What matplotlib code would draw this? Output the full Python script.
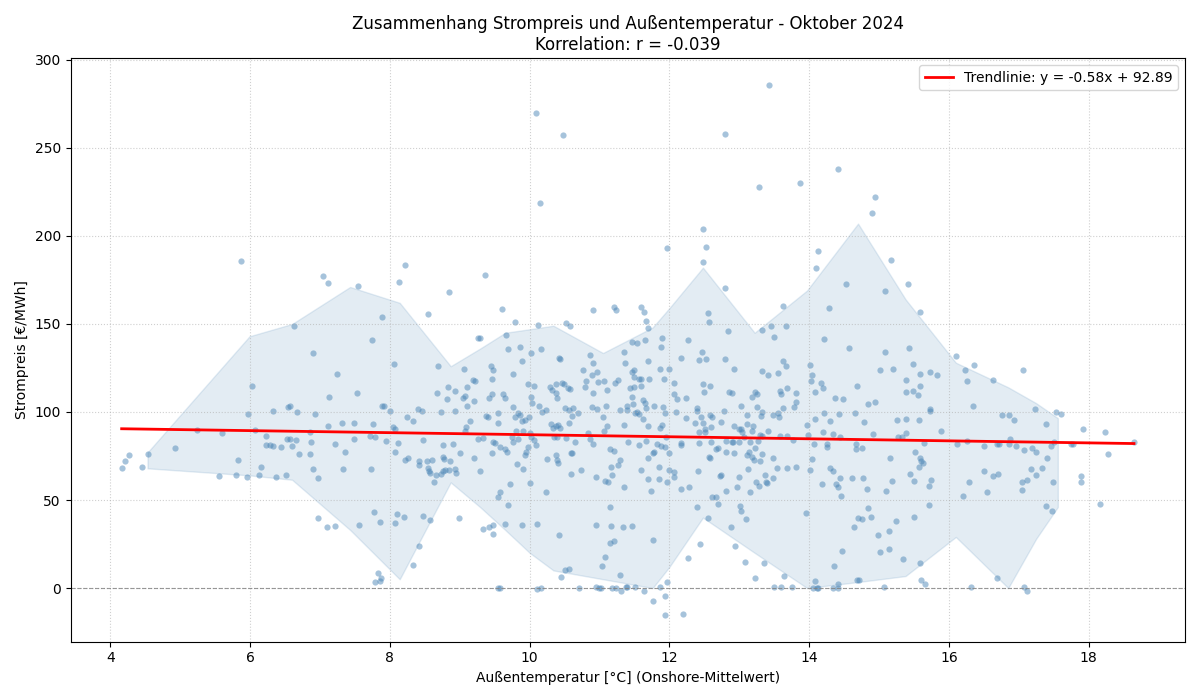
import numpy as np
import matplotlib
matplotlib.use("Agg")
import matplotlib.pyplot as plt

# Stundenwerte Oktober 2024, nach Temperaturbereichen
temp_a = [4.16, 4.21, 4.26, 4.45, 4.53, 4.93, 5.24, 5.59, 5.56, 5.8, 5.96, 6.13, 6.37, 6.51, 5.83, 6.16,
          5.97, 6.33, 6.07, 6.23, 6.23, 6.29, 6.33, 6.44, 6.53, 6.54, 5.87, 6.03]
preis_a = [68, 72, 75.5, 69, 76, 79.5, 90, 88, 63.6, 64, 63, 64, 63, 64, 73, 69,
           99, 100.6, 90, 86.5, 81, 81, 80.7, 80, 84.5, 103, 186, 115]

temp_b = [6.62, 7.04, 7.12, 7.55, 7.89, 8.13, 8.22, 8.55, 8.85, 9.26, 6.9, 7.74, 7.24, 8.06, 8.69, 9.06,
          9.19, 9.22, 8.83, 9.1, 8.93, 8.68, 7.13, 7.53, 9.04,
          6.57, 6.67, 6.93, 7.89, 7.92, 8.0, 8.4, 8.46, 8.73, 8.93, 8.81, 9.07, 9.21, 9.1, 8.24, 8.33,
          9.14, 9.09, 9.07, 7.12, 7.32, 7.49, 7.76, 6.85, 8.05, 8.07, 6.57, 6.66, 6.87, 7.21, 7.49,
          7.71, 7.79, 7.94, 8.11, 8.47, 8.76, 8.9, 9.26,
          6.6, 6.7, 6.86, 7.36, 8.07, 8.22, 8.26, 8.42, 8.42, 8.53, 8.6, 8.55, 8.56, 8.58, 8.66, 8.73,
          8.63, 8.76, 8.78, 8.86, 8.76, 8.79, 8.84, 8.93, 8.94, 9.01, 9.21, 9.29, 6.9, 6.97, 7.33, 7.73,
          6.97, 7.1, 7.21, 7.56, 7.77, 7.86, 8.1, 8.2, 8.07, 8.47, 8.58, 8.99, 8.42, 8.33, 7.83, 7.87,
          7.79, 7.86]
preis_b = [149, 177, 173, 171.6, 154, 174, 183.5, 155.7, 168, 142, 133.5, 141, 121.6, 127, 126, 124.4,
           118, 117.6, 114, 114, 112, 111, 108.5, 111, 108,
           103.4, 100, 99, 103.4, 103.4, 100.6, 101.7, 100.6, 100, 100.6, 107.4, 109, 106, 103.4, 97, 95,
           95, 91.5, 89, 92, 94, 93.8, 93.2, 88.6, 91.5, 90.3, 84.7, 84, 83, 81.8, 84.7,
           86.4, 85.8, 83.5, 82.4, 84, 81.3, 81.8, 84.7,
           80.7, 76, 76, 77.3, 77.3, 72.7, 73.9, 72, 70, 72, 72.7, 68, 66.5, 65.3, 64.2, 64.8,
           60, 74.4, 73.3, 72, 66.5, 67, 67, 67.6, 65.3, 76.7, 73.9, 66.5, 67.6, 62.5, 67.6, 67.6,
           40, 34.7, 35.2, 35.8, 43, 37.5, 42, 40.3, 37, 41, 38.6, 39.8, 23.9, 13, 8.5, 5.7,
           3.4, 4]

temp_c = [9.36, 10.09, 10.48, 10.15, 11.97, 9.6, 10.91, 11.21, 11.23, 11.59, 11.63, 11.66, 11.7, 9.79,
          10.12, 10.52, 10.58, 9.29, 9.66, 11.9, 11.46, 11.53, 11.65, 11.88, 9.69, 9.86, 10.02, 10.16,
          10.87, 11.35, 9.89, 10.42, 10.43, 10.91, 11.37, 11.7, 9.45, 9.48, 9.46, 9.76, 10.77, 10.89,
          10.96, 11.46, 11.5, 11.59, 11.71, 11.86, 11.92, 12.0, 10.81, 10.98, 11.07, 11.22, 11.27,
          11.49, 11.5, 11.57, 11.59, 9.97, 10.06, 10.29, 10.32, 10.38, 10.46, 10.49, 10.55, 10.58,
          10.79, 10.9, 11.1, 11.43, 11.47, 11.62, 9.46, 9.62, 10.02, 10.38, 10.39, 9.42, 9.65,
          9.37, 9.4, 9.55, 9.54, 9.76, 9.79, 9.84, 9.86, 9.89, 9.94, 9.99, 10.04, 10.14, 10.18, 10.24,
          9.33, 9.48, 9.5, 9.58, 9.46, 9.65, 9.68, 9.74, 9.76, 9.8, 9.9, 9.84, 10.01, 10.02, 10.06,
          10.09, 9.98, 9.95, 9.94, 9.82, 9.9, 9.72, 10.01, 9.58, 9.54, 9.69, 9.65, 9.89, 10.11, 10.24,
          10.42, 9.33, 9.42, 9.48, 9.48, 10.51, 10.57, 10.45, 9.55, 9.58, 10.11, 10.16, 10.71, 10.95,
          10.99, 11.02, 11.18, 11.24, 11.31, 11.38, 11.4, 11.51, 11.64, 11.77, 11.87, 11.94, 11.97,
          11.94, 11.3, 11.08, 11.04, 11.15, 11.2, 10.95, 11.16, 11.33, 11.47, 11.15, 11.77, 11.35,
          11.74, 11.85, 11.96, 11.7, 11.6, 11.85, 10.95, 11.08, 11.12, 11.18, 10.59, 10.74, 11.27,
          11.3, 11.16, 10.25, 10.38, 10.39, 10.4, 10.59, 10.6, 11.15, 11.2, 11.57, 11.66, 11.41,
          11.77, 11.78, 11.7, 11.88, 11.94, 11.82, 11.99, 12.0, 10.52, 10.65, 10.9, 10.84, 10.87,
          11.07, 11.11, 11.35, 10.35, 10.39, 10.34, 10.38, 10.44, 10.31, 10.41, 10.56, 10.6, 10.69,
          10.51, 10.57, 10.62, 10.89, 10.96, 11.09, 11.05, 11.3, 11.39, 11.39, 11.48, 11.51, 11.54,
          11.56, 11.62, 11.65, 11.66, 11.78, 11.91, 11.94, 11.69, 11.87, 11.89, 11.95]
preis_c = [178, 270, 257.6, 218.8, 193, 158.5, 158, 159.7, 158, 159.7, 156.8, 151.7, 147.7, 151,
           149.4, 150.6, 148.9, 142, 143.8, 142, 140, 139, 141, 137, 135.8, 137, 133.5, 135.8,
           132.4, 134, 129, 130.7, 130.2, 127.8, 127.8, 129, 126, 124, 119, 121.6, 124, 121,
           122.7, 122.7, 124, 118.8, 118.8, 124.4, 118.8, 124.4, 117.6, 117, 117.6, 116.5, 118,
           120, 114, 118.8, 115, 116, 114.8, 114, 112.5, 116, 116.5, 116, 113.6, 113,
           114, 110.8, 112.5, 113.6, 108.5, 106.8, 110, 110, 108.5, 110.8, 108, 108, 108,
           97.7, 97, 99.4, 93.8, 102.8, 97, 99.4, 98.3, 95, 95.5, 97, 105, 103.4, 100, 101,
           85, 83, 82.4, 80, 76.7, 79, 77.3, 85.8, 83, 89, 89, 84.7, 88, 85.8, 84,
           81.3, 80, 77.3, 75.5, 70.5, 67.6, 59, 59.7, 54.5, 51.7, 47, 36.4, 35.8, 36.4, 54.5,
           30, 33.5, 34.7, 35.8, 30.7, 10.2, 10.8, 6.2, 0, 0, -0.5, 0, 0, 0.5,
           0, 0, 0, 0, -1.7, 0.5, 0.5, 0.5, -1.7, -7.4, 0.5, -4.5, 3.4,
           -15.3, 7.4, 17.6, 12.5, 25.6, 26.7, 35.8, 35.2, 34.7, 35.2, 46, 27.3, 57.4,
           55, 62, 60.2, 62, 67, 68.8, 63, 60.8, 60.2, 64.2, 64.8, 67, 70,
           72.7, 68.8, 73.3, 75.5, 72.7, 71, 76.7, 76.7, 79, 78, 81.3, 83.5, 83,
           76.7, 77.3, 73.9, 80.7, 80, 81.8, 76.7, 67, 85.2, 83, 81.8, 88, 84.7,
           89, 92, 92.6, 85.8, 85.8, 91, 92, 91, 93.2, 92.6, 93.8, 97.7, 99.4,
           102, 101, 102, 102.8, 101.7, 103.4, 97, 101, 101, 103.4, 104.5, 99.4, 100,
           99, 96, 105, 102.3, 103.4, 102.8, 99.4, 92, 91, 92.6, 85.8]

temp_d = [13.43, 12.8, 13.28, 13.87, 14.41, 12.48, 12.52, 12.48, 14.13, 14.1, 14.53, 12.8, 14.29,
          12.55, 12.57, 13.62, 13.67, 13.45, 13.33, 13.5, 12.84, 12.27, 14.21, 14.57, 12.17, 12.47,
          12.43, 12.53, 12.8, 12.93, 13.62, 13.67, 14.01, 14.04, 14.03, 14.17, 14.2, 14.08, 14.68,
          12.07, 12.07, 12.48, 12.58, 12.5, 13.33, 13.41, 13.56, 12.86, 12.9, 13.22, 13.25, 13.58,
          13.6, 13.68, 13.81, 14.37, 14.48, 13.18, 12.24, 12.11,
          12.1, 12.24, 12.4, 12.39, 12.36, 12.45, 12.48, 12.43, 12.51, 12.51, 12.58, 12.61, 12.6,
          12.74, 12.78, 13.02, 12.93, 12.99, 13.02, 13.04, 13.11, 13.11, 13.19, 13.18, 13.25, 13.33,
          13.31, 13.41, 13.49, 13.56, 13.57, 13.62, 13.79, 13.81, 13.07, 13.3, 13.33, 12.89, 12.91,
          12.99, 12.81, 13.16, 13.27, 13.58, 13.68, 13.77, 13.99, 12.17, 12.17, 12.43, 12.6, 12.7,
          12.67, 12.81, 12.93, 12.57, 12.58, 13.14, 13.11, 13.18, 13.21, 13.3, 13.22, 13.33, 13.49,
          13.54, 13.68, 13.81, 13.13, 13.0, 13.24, 13.28, 13.38, 13.39, 13.49, 13.37, 12.97, 12.81,
          13.16, 12.74, 12.73, 12.41, 12.06, 12.06, 12.16, 12.28, 12.61, 12.67, 12.7, 12.39, 13.01,
          13.02, 13.1, 12.55, 12.88, 12.44, 12.94, 12.27, 13.08, 13.35, 13.22, 13.64, 13.5, 13.6,
          13.76, 12.19, 13.96, 14.01, 14.04, 14.07, 13.97, 14.08, 14.21, 14.2, 14.26, 14.26, 14.3,
          14.34, 14.43, 14.44, 14.3, 14.34, 14.44, 14.39, 14.41, 14.46, 14.19, 14.61, 14.66, 14.67,
          14.67, 14.7, 14.64, 14.47, 14.36, 14.08, 14.06, 14.11, 14.13, 14.34, 14.41, 14.41, 14.69]
preis_d = [286, 258, 228, 230, 238, 204, 194, 185, 191.5, 182, 172.7, 170.5, 159,
           156, 151, 160, 149, 149, 146.6, 142.6, 146, 141, 141.5, 136.4, 130.7, 134,
           129.5, 130, 130, 124.4, 129, 126, 126.7, 121, 117.6, 116.5, 113.6, 111.4, 114.8,
           116.5, 110, 116, 115, 111.4, 123.3, 121, 122, 111.4, 110.8, 111.4, 110, 112,
           110, 113.6, 110.8, 108, 107.4, 108.5, 108, 107.4,
           100, 96.6, 102, 100.6, 93.8, 97, 93.8, 88.6, 88.6, 90.3, 98.3, 97, 91.5,
           94.3, 100.6, 103.4, 92, 90.3, 90.3, 88.6, 98.3, 93.2, 92, 89.2, 102.8, 100,
           97.7, 89.2, 98.3, 99.4, 97, 102.3, 102.8, 105.7, 85.8, 87, 86.4, 83, 83,
           83, 83.5, 83, 83.5, 86.4, 86.4, 84, 87, 82.4, 81.3, 82.4, 83, 79.5,
           79, 77.3, 76.7, 74.4, 73.9, 77.3, 75.5, 74.4, 72.7, 72, 79.5, 76, 73.9,
           68, 68, 68.8, 67.6, 63, 60.2, 58, 60.2, 59.7, 62.5, 64.2, 57.4, 55,
           54.5, 64.2, 63.6, 66.5, 66, 63, 56.3, 57.4, 51.7, 51.7, 47.7, 46, 46.6,
           43.8, 39.2, 39.8, 34.7, 25, 23.9, 17, 14.8, 14.2, 5.7, 6.8, 0.5, 0.5,
           0.5, -14.8, 42.6, 67, 73.3, 81.8, 92.6, 96, 99.4, 88.6, 81.8, 80, 95,
           87.5, 98.9, 85.8, 68, 66.5, 62.5, 59, 57.4, 52.3, 59, 62.5, 99.4, 81.8,
           79, 39.8, 34.7, 21, 12.5, 4, 0, 0, 0, 0, 2.3, 0, 4.5]

temp_e = [14.94, 14.9, 15.17, 15.41, 15.09, 15.59, 15.09, 15.43, 16.1, 15.49, 16.36, 15.02, 15.2,
          15.59, 15.73, 15.83, 16.23, 16.26, 16.63, 17.06, 15.39, 15.59, 15.39, 15.49, 15.56,
          14.84, 14.94, 14.79, 14.91, 14.76, 15.26, 15.39, 15.57, 15.73, 15.73, 15.89, 15.39, 15.27,
          15.33, 15.64, 15.52, 15.16, 15.59, 15.6, 15.63, 15.57, 15.45, 15.5, 15.74, 15.71, 15.19,
          15.1, 14.83, 14.77, 15.71, 14.84, 14.76, 14.89, 15.5, 15.24, 15.14, 14.99, 15.01, 15.14,
          15.34, 15.59, 14.72, 15.07, 15.6, 15.66, 16.11, 16.26, 16.35, 16.2, 16.29, 16.5, 16.51,
          16.54, 16.63, 16.7, 16.69, 16.72, 16.76, 16.86, 16.93, 16.87, 16.86, 16.96, 17.08, 17.19,
          17.25, 17.4, 17.17, 17.25, 17.33, 17.05, 17.12, 17.05, 17.23, 17.39, 17.39, 16.69, 16.31,
          17.08, 17.12, 17.53, 17.6, 17.92, 18.23, 17.51, 17.46, 17.75, 17.77, 18.65, 18.28, 17.49,
          17.89, 17.89, 17.48, 18.16]
preis_e = [222, 213, 186.4, 172.7, 168.8, 156.8, 134, 136.4, 131.8, 127.3, 126.7, 124, 124.4,
           121.6, 122.7, 121, 124, 117.6, 118, 124, 118, 114.8, 111.4, 112, 109.7,
           104.5, 105.7, 94.3, 87.5, 79.5, 95.5, 96, 95.5, 101.7, 100.6, 89.2, 88, 85.8,
           85.8, 82.4, 77.3, 73.9, 73.9, 72, 71, 68.8, 64.8, 60.8, 61.4, 58, 60.8,
           55, 56.3, 62.5, 47, 45.5, 39.2, 40.3, 40.3, 38, 32.4, 30.1, 20.4, 22.2,
           16.5, 14.2, 4.5, 0.5, 4.5, 2.3, 81.8, 83.5, 103.4, 52.3, 60.2, 80.7, 66.5,
           54.5, 63.6, 64.8, 81.8, 81.8, 98.3, 98.3, 95.5, 84.7, 81.8, 80.7, 78.4, 79.5,
           77.3, 73.9, 67.6, 64.2, 68.2, 60.2, 61.4, 55.7, 101.7, 93.2, 46.6, 5.7, 0.5,
           0.5, -1.7, 100, 98.9, 90.3, 88.6, 83, 80.7, 81.8, 81.8, 83, 76, 60.2,
           63.6, 60.2, 43.8, 47.7]

# Streuband (Perzentilbereich je Temperaturklasse)
band_temp = [4.53, 5.99, 6.6, 7.43, 8.14, 8.87, 9.29, 9.65, 10.0, 10.34, 11.05, 11.76, 12.0,
             12.48, 13.22, 13.97, 14.7, 15.38, 16.1, 16.85, 17.25, 17.56]
band_unten = [68, 64, 61.5, 33, 5, 60, 46, 33, 20, 10, 5, 0, 12,
              40, 20, 0, 3.4, 6.8, 29, 0, 28, 46]
band_oben = [77, 143, 150, 171, 162, 126, 136, 145, 147, 149, 133.5, 148, 159,
             182, 145, 169, 207, 164, 128, 114, 105, 96.5]

# Regression aus dem Original
steigung = -0.58
achsenabschnitt = 92.89
korrelation = -0.039

temperatur = np.array(temp_a + temp_b + temp_c + temp_d + temp_e)
strompreis = np.array(preis_a + preis_b + preis_c + preis_d + preis_e)

fig, ax = plt.subplots(figsize=(12, 7), dpi=100)

ax.fill_between(band_temp, band_unten, band_oben, color='steelblue', alpha=0.15)
ax.scatter(temperatur, strompreis, s=20, color='steelblue', alpha=0.48, linewidths=0)

x_trend = np.array([temperatur.min(), temperatur.max()])
ax.plot(x_trend, steigung * x_trend + achsenabschnitt, color='red', linewidth=2,
        label=f'Trendlinie: y = {steigung:.2f}x + {achsenabschnitt:.2f}')

ax.axhline(0, color='gray', linestyle='--', linewidth=0.8, alpha=0.8)
ax.grid(True, linestyle=':', alpha=0.6)

ax.set_xlim(3.43, 19.38)
ax.set_ylim(-30.5, 301)
ax.set_xlabel('Außentemperatur [°C] (Onshore-Mittelwert)')
ax.set_ylabel('Strompreis [€/MWh]')
ax.set_title(f'Zusammenhang Strompreis und Außentemperatur - Oktober 2024\nKorrelation: r = {korrelation:.3f}')
ax.legend(loc='upper right')

plt.tight_layout()
plt.savefig('out.png')
